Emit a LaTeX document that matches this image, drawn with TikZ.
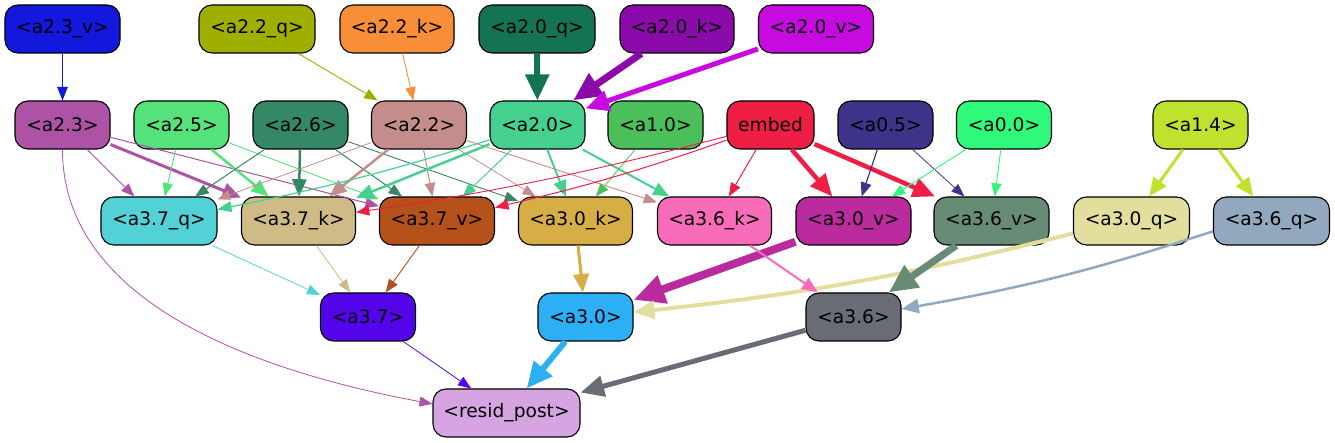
\documentclass[tikz,border=0pt]{standalone}
\usepackage{fontspec}
\setmainfont{DejaVu Sans}
\usetikzlibrary{arrows.meta}
\definecolor{c23v}{HTML}{1218DC}
\definecolor{c22q}{HTML}{9FAF00}
\definecolor{c22k}{HTML}{F88E38}
\definecolor{c20q}{HTML}{147352}
\definecolor{c20k}{HTML}{8B0BAA}
\definecolor{c20v}{HTML}{C60AE0}
\definecolor{c23}{HTML}{AD52A4}
\definecolor{c25}{HTML}{56E27A}
\definecolor{c26}{HTML}{358865}
\definecolor{c22}{HTML}{C48C8A}
\definecolor{c20}{HTML}{46D090}
\definecolor{c10}{HTML}{4ABF5A}
\definecolor{cemb}{HTML}{EE1E44}
\definecolor{c05}{HTML}{3D348A}
\definecolor{c00}{HTML}{30F87A}
\definecolor{c14}{HTML}{BFE22F}
\definecolor{c37q}{HTML}{52D2D6}
\definecolor{c37k}{HTML}{CFBB85}
\definecolor{c37v}{HTML}{B5521C}
\definecolor{c30k}{HTML}{D6AE45}
\definecolor{c36k}{HTML}{F86BB8}
\definecolor{c30v}{HTML}{BA2C9E}
\definecolor{c36v}{HTML}{678B75}
\definecolor{c30q}{HTML}{E2DE9E}
\definecolor{c36q}{HTML}{92A8BE}
\definecolor{c37}{HTML}{5404E8}
\definecolor{c30}{HTML}{2DAFF6}
\definecolor{c36}{HTML}{676C75}
\definecolor{crp}{HTML}{D5A4E1}
\begin{document}
\begin{tikzpicture}[x=1bp,y=1bp,
  box/.style={draw=black, line width=1.1bp, rounded corners=13bp, minimum height=48bp, inner sep=0pt, font=\fontsize{18.7}{22}\selectfont, text=black},
  wa/.style={box, minimum width=95bp},
  wq/.style={box, minimum width=116bp},
  wk/.style={box, minimum width=114bp},
  wv/.style={box, minimum width=115bp},
  ed/.style 2 args={draw=#1, line width=#2, -{Triangle[length=11bp 2.5, width=8bp 2.5]}}
]
\useasboundingbox (0,0) rectangle (1335,443);
% row 1
\node[wv, fill=c23v] (a23v) at (62.5,414) {<a2.3\_v>};
\node[wq, fill=c22q] (a22q) at (257,414) {<a2.2\_q>};
\node[wk, fill=c22k] (a22k) at (397,414) {<a2.2\_k>};
\node[wq, fill=c20q] (a20q) at (537,414) {<a2.0\_q>};
\node[wk, fill=c20k] (a20k) at (677,414) {<a2.0\_k>};
\node[wv, fill=c20v] (a20v) at (816,414) {<a2.0\_v>};
% row 2
\node[wa, fill=c23] (a23) at (62.5,318) {<a2.3>};
\node[wa, fill=c25] (a25) at (181.5,318) {<a2.5>};
\node[wa, fill=c26] (a26) at (300.5,318) {<a2.6>};
\node[wa, fill=c22] (a22) at (419,318) {<a2.2>};
\node[wa, fill=c20] (a20) at (537.5,318) {<a2.0>};
\node[wa, fill=c10] (a10) at (655.5,318) {<a1.0>};
\node[box, minimum width=87bp, fill=cemb] (emb) at (770.5,318) {embed};
\node[wa, fill=c05] (a05) at (885.5,318) {<a0.5>};
\node[wa, fill=c00] (a00) at (1004,318) {<a0.0>};
\node[wa, fill=c14] (a14) at (1200.5,318) {<a1.4>};
% row 3
\node[wq, fill=c37q] (a37q) at (159,222) {<a3.7\_q>};
\node[wk, fill=c37k] (a37k) at (298.5,222) {<a3.7\_k>};
\node[wv, fill=c37v] (a37v) at (437,222) {<a3.7\_v>};
\node[wk, fill=c30k] (a30k) at (575.5,222) {<a3.0\_k>};
\node[wk, fill=c36k] (a36k) at (714.5,222) {<a3.6\_k>};
\node[wv, fill=c30v] (a30v) at (853.5,222) {<a3.0\_v>};
\node[wv, fill=c36v] (a36v) at (991.5,222) {<a3.6\_v>};
\node[wq, fill=c30q] (a30q) at (1131.5,222) {<a3.0\_q>};
\node[wq, fill=c36q] (a36q) at (1271.5,222) {<a3.6\_q>};
% row 4
\node[wa, fill=c37] (a37) at (368,126) {<a3.7>};
\node[wa, fill=c30] (a30) at (585.5,126) {<a3.0>};
\node[wa, fill=c36] (a36) at (853.5,126) {<a3.6>};
% row 5
\node[box, minimum width=147bp, fill=crp] (rp) at (506.5,30) {<resid\_post>};
% edges row 1 -> row 2
\draw[ed={c23v}{1bp}] (a23v) -- (a23);
\draw[ed={c22q}{0.9bp}] (a22q) -- (a22);
\draw[ed={c22k}{0.9bp}] (a22k) -- (a22);
\draw[ed={c20q}{6bp}] (a20q) -- (a20);
\draw[ed={c20k}{7bp}] (a20k) -- (a20);
\draw[ed={c20v}{5bp}] (a20v) -- (a20);
% a2.3
\draw[ed={c23}{0.9bp}] (a23) -- (a37q);
\draw[ed={c23}{3bp}] (a23) -- (a37k);
\draw[ed={c23}{1bp}] (a23) -- (a37v);
\draw[ed={c23}{0.8bp}] (a23.south) .. controls (62.5,143) and (250,73) .. (rp.173);
% a2.5
\draw[ed={c25}{0.9bp}] (a25) -- (a37q);
\draw[ed={c25}{2.5bp}] (a25) -- (a37k);
\draw[ed={c25}{0.9bp}] (a25) -- (a37v);
% a2.6
\draw[ed={c26}{1bp}] (a26) -- (a37q);
\draw[ed={c26}{2.5bp}] (a26) -- (a37k);
\draw[ed={c26}{1bp}] (a26) -- (a37v);
\draw[ed={c26}{0.9bp}] (a26) -- (a30k);
% a2.2
\draw[ed={c22}{0.8bp}] (a22) -- (a37q);
\draw[ed={c22}{2.5bp}] (a22) -- (a37k);
\draw[ed={c22}{1bp}] (a22) -- (a37v);
\draw[ed={c22}{0.8bp}] (a22) -- (a30k);
\draw[ed={c22}{0.9bp}] (a22) -- (a36k);
% a2.0
\draw[ed={c20}{1.2bp}] (a20) to[bend left=3] (a37q);
\draw[ed={c20}{2.5bp}] (a20) -- (a37k);
\draw[ed={c20}{1bp}] (a20) -- (a37v);
\draw[ed={c20}{2bp}] (a20) -- (a30k);
\draw[ed={c20}{2bp}] (a20) -- (a36k);
% a1.0
\draw[ed={c10}{0.8bp}] (a10) -- (a30k);
% embed
\draw[ed={cemb}{0.9bp}] (emb) to[bend left=3] (a37k);
\draw[ed={cemb}{1bp}] (emb) to[bend left=3] (a37v);
\draw[ed={cemb}{1bp}] (emb) -- (a36k);
\draw[ed={cemb}{4.5bp}] (emb) -- (a30v);
\draw[ed={cemb}{4.5bp}] (emb) -- (a36v);
% a0.5, a0.0, a1.4
\draw[ed={c05}{1.2bp}] (a05) -- (a30v);
\draw[ed={c05}{0.8bp}] (a05) -- (a36v);
\draw[ed={c00}{0.9bp}] (a00) -- (a30v);
\draw[ed={c00}{0.9bp}] (a00) -- (a36v);
\draw[ed={c14}{3bp}] (a14) -- (a30q);
\draw[ed={c14}{3bp}] (a14) -- (a36q);
% row 3 -> row 4
\draw[ed={c37q}{0.8bp}] (a37q) -- (a37);
\draw[ed={c37k}{0.8bp}] (a37k) -- (a37);
\draw[ed={c37v}{0.9bp}] (a37v) -- (a37);
\draw[ed={c30k}{3bp}] (a30k) -- (a30);
\draw[ed={c30v}{8bp}] (a30v) -- (a30);
\draw[ed={c30q}{4bp}] (a30q.192) to[bend left=4] (a30);
\draw[ed={c36k}{2bp}] (a36k) -- (a36);
\draw[ed={c36v}{7bp}] (a36v) -- (a36);
\draw[ed={c36q}{2.5bp}] (a36q.190) to[bend left=4] (a36);
% row 4 -> resid_post
\draw[ed={c37}{0.8bp}] (a37) -- (rp);
\draw[ed={c30}{6bp}] (a30) -- (rp);
\draw[ed={c36}{5bp}] (a36) -- (rp);
\end{tikzpicture}
\end{document}
